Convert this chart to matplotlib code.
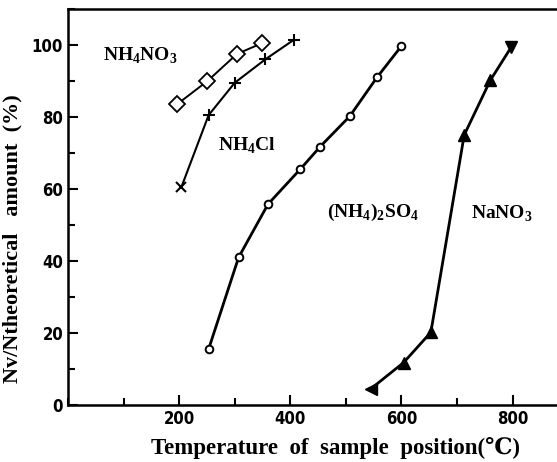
import matplotlib
matplotlib.use("Agg")
import matplotlib.pyplot as plt
from matplotlib.ticker import MultipleLocator

# NH4NO3 (open diamonds)
nh4no3_t = [196, 251, 304, 349]
nh4no3_v = [83.5, 90, 97.5, 100.5]

# NH4Cl (crosses)
nh4cl_t = [204, 253, 300, 355, 407]
nh4cl_v = [60.5, 80.5, 89.5, 96, 101.5]

# (NH4)2SO4 (open circles)
so4_t = [253, 307, 360, 418, 454, 507, 556, 600]
so4_v = [15.5, 41, 55.8, 65.5, 71.8, 80.2, 91, 99.7]

# NaNO3 (filled triangles)
nano3_t = [545, 604, 653, 713, 760, 798]
nano3_v = [4.5, 11.8, 20.2, 75, 90.2, 99.5]

serif = ['Liberation Serif', 'DejaVu Serif']
plt.rcParams['mathtext.fontset'] = 'custom'
plt.rcParams['mathtext.rm'] = 'Liberation Serif:bold'

fig = plt.figure(figsize=(5.57, 4.62), dpi=100)
ax = fig.add_axes([68/557, 57/462, 1 - 68/557 + 0.01, (405 - 9)/462])

ax.plot(nh4no3_t, nh4no3_v, '-', color='k', lw=1.4, zorder=2)
ax.plot(nh4no3_t, nh4no3_v, 'D', ms=8, mfc='white', mec='k', mew=1.3, ls='none', zorder=3)

ax.plot(nh4cl_t, nh4cl_v, '-', color='k', lw=1.5, zorder=2)
ax.plot(nh4cl_t[:1], nh4cl_v[:1], 'x', ms=7, mec='k', mew=1.5, ls='none', zorder=3)
ax.plot(nh4cl_t[1:], nh4cl_v[1:], '+', ms=9, mec='k', mew=1.5, ls='none', zorder=3)

ax.plot(so4_t, so4_v, '-', color='k', lw=2, zorder=2)
ax.plot(so4_t, so4_v, 'o', ms=5.5, mfc='white', mec='k', mew=1.4, ls='none', zorder=3)

ax.plot(nano3_t, nano3_v, '-', color='k', lw=2, zorder=2)
tri = ['<', '^', '^', '^', '^', 'v']
for t, v, m in zip(nano3_t, nano3_v, tri):
    ax.plot([t], [v], m, ms=9, color='k', ls='none', zorder=3)

txt = dict(fontsize=14, family=serif, fontweight='bold', ha='center', va='center')
ax.text(130, 97, r'NH$_{\rm 4}$NO$_{\rm 3}$', **txt)
ax.text(322, 72, r'NH$_{\rm 4}$Cl', **txt)
ax.text(549, 53.5, r'(NH$_{\rm 4}$)$_{\rm 2}$SO$_{\rm 4}$', **txt)
ax.text(780, 53, r'NaNO$_{\rm 3}$', **txt)

ax.set_xlim(0, 890)
ax.set_ylim(0, 110)
ax.xaxis.set_minor_locator(MultipleLocator(100))
ax.yaxis.set_major_locator(MultipleLocator(20))
ax.yaxis.set_minor_locator(MultipleLocator(10))
ax.set_xticks([200, 400, 600, 800])
ax.tick_params(which='both', direction='in', width=1.5)
ax.tick_params(which='major', length=7)
ax.tick_params(which='minor', length=5)
ax.tick_params(top=False, right=False)
for lab in ax.get_xticklabels() + ax.get_yticklabels():
    lab.set_family('DejaVu Sans')
    lab.set_fontstretch('condensed')
    lab.set_fontweight('bold')
    lab.set_fontsize(12)
for s in ['left', 'bottom', 'top']:
    ax.spines[s].set_linewidth(1.8)
ax.spines['right'].set_visible(False)

ax.set_xlabel('Temperature  of  sample  position(\u2103)', family=serif + ['DejaVu Sans'],
              fontsize=16.5, fontweight='bold')
ax.set_ylabel('Nv/Ntheoretical   amount  (%)', family=serif, fontsize=16,
              fontweight='bold')
ax.xaxis.set_label_coords(0.54, -0.08)
ax.yaxis.set_label_coords(-0.092, 0.42)

fig.savefig('out.png', dpi=100)
